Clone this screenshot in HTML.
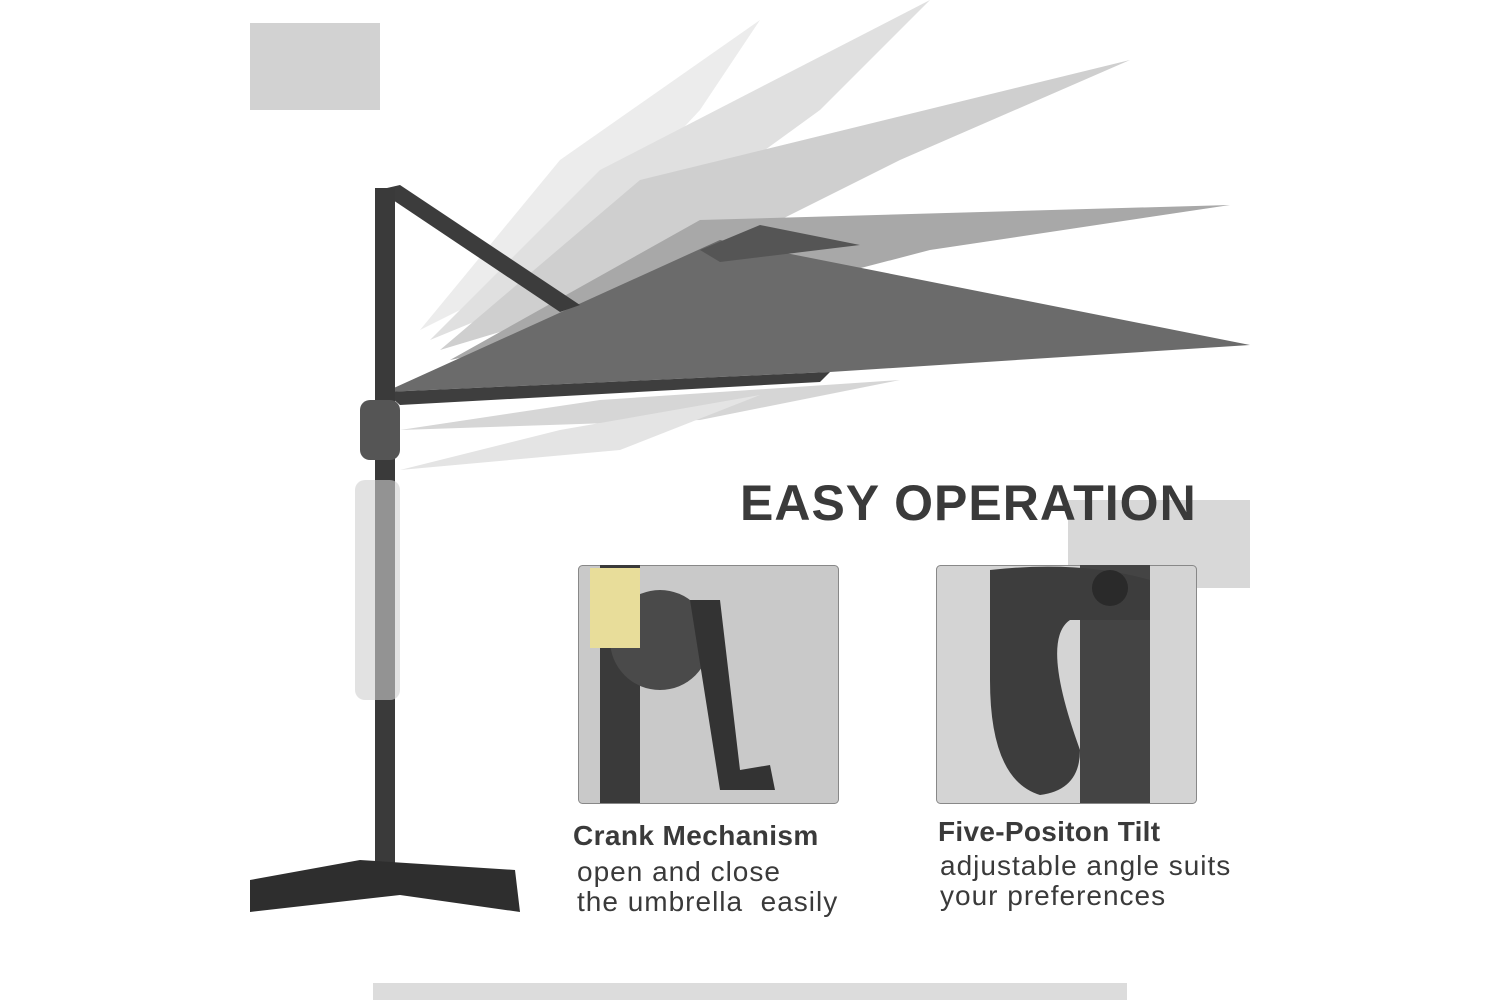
<!DOCTYPE html>
<html><head><meta charset="utf-8"><style>
body{margin:0;width:1500px;height:1000px;background:#fff;position:relative;overflow:hidden;font-family:"Liberation Sans",sans-serif}
.t{position:absolute;color:#3a3a3a;white-space:nowrap}
.r{font-size:28px;letter-spacing:1px}
</style></head><body>
<svg width="1500" height="1000" style="position:absolute;left:0;top:0">
<rect x="250" y="23" width="130" height="87" fill="#d2d2d2"/>
<rect x="1068" y="500" width="182" height="88" fill="#d8d8d8"/>
<rect x="373" y="983" width="754" height="17" fill="#dcdcdc"/>
<polygon points="420,330 560,160 760,20 700,110 560,260" fill="#ececec"/>
<polygon points="430,340 600,170 930,0 820,110 600,270" fill="#e0e0e0"/>
<polygon points="440,350 640,180 1130,60 900,160 640,290" fill="#cfcfcf"/>
<polygon points="450,360 700,220 1230,205 930,250 700,310" fill="#a8a8a8"/>
<polygon points="400,430 600,400 900,380 700,420" fill="#d6d6d6"/>
<polygon points="400,470 560,430 760,395 620,450" fill="#e4e4e4"/>
<polygon points="385,392 720,240 1250,345 830,372" fill="#6b6b6b"/>
<polygon points="385,392 830,372 820,382 400,405" fill="#3e3e3e"/>
<polygon points="700,250 760,225 860,245 720,262" fill="#555"/>
<polygon points="378,190 400,185 580,305 560,312" fill="#3c3c3c"/>
<rect x="375" y="188" width="20" height="680" fill="#3a3a3a"/>
<rect x="360" y="400" width="40" height="60" rx="10" fill="#555"/>
<rect x="355" y="480" width="45" height="220" rx="10" fill="#cfcfcf" opacity="0.6"/>
<polygon points="250,880 360,860 515,870 520,912 400,895 250,912" fill="#2e2e2e"/>
<rect x="578.5" y="565.5" width="260" height="238" rx="4" fill="#c9c9c9" stroke="#888"/>
<rect x="600" y="565" width="40" height="238" fill="#3a3a3a"/>
<circle cx="660" cy="640" r="50" fill="#4a4a4a"/>
<polygon points="690,600 720,600 740,770 770,765 775,790 720,790" fill="#333"/>
<rect x="590" y="568" width="50" height="80" fill="#e8dd9a"/>
<rect x="936.5" y="565.5" width="260" height="238" rx="4" fill="#d4d4d4" stroke="#888"/>
<rect x="1080" y="565" width="70" height="238" fill="#444"/>
<path d="M990,570 Q1080,560 1150,580 L1150,620 L1070,620 Q1040,640 1080,750 Q1080,790 1040,795 Q990,780 990,680 Z" fill="#3d3d3d"/>
<circle cx="1110" cy="588" r="18" fill="#2a2a2a"/>
</svg>
<div class="t" style="left:740px;top:474px;font-size:50px;font-weight:bold;letter-spacing:1px">EASY OPERATION</div>
<div class="t" style="left:573px;top:820px;font-size:28px;font-weight:bold;letter-spacing:0.4px">Crank Mechanism</div>
<div class="t r" style="left:577px;top:856px">open and close</div>
<div class="t r" style="left:577px;top:886px">the umbrella&nbsp; easily</div>
<div class="t" style="left:938px;top:816px;font-size:28px;font-weight:bold;letter-spacing:0.3px">Five-Positon Tilt</div>
<div class="t r" style="left:940px;top:850px">adjustable angle suits</div>
<div class="t r" style="left:940px;top:880px">your preferences</div>
</body></html>
